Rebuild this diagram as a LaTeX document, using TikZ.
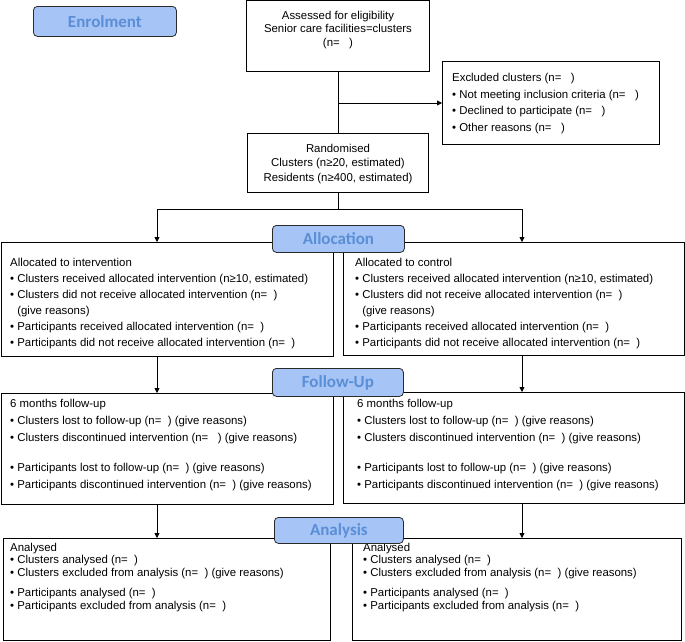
\documentclass[tikz,border=0pt]{standalone}
\usepackage{fontspec}
\setmainfont{Liberation Sans}
\newfontfamily\bannerfont{Carlito}
\usetikzlibrary{arrows.meta}
\definecolor{bannerfill}{HTML}{A6C4F5}
\definecolor{bannertext}{HTML}{5A8ED6}
\definecolor{bannerdraw}{HTML}{2A2A2A}
\tikzset{
  box/.style={draw=black, line width=0.8pt, rectangle, inner sep=0pt, anchor=north west, fill=white},
  banner/.style={draw=bannerdraw, line width=0.8pt, fill=bannerfill, rounded corners=4pt, anchor=north west, inner sep=0pt, text=bannertext, font=\bannerfont\bfseries\fontsize{17}{19}\selectfont},
  txt/.style={inner sep=0pt, align=left, anchor=north west, font=\fontsize{11.4}{16}\selectfont},
  ctxt/.style={inner sep=0pt, align=center, font=\fontsize{11.4}{14}\selectfont},
  conn/.style={line width=0.8pt, draw=black},
  arr/.style={conn, -{Triangle[length=5pt,width=5pt]}}
}
\newcommand{\bul}{\textbullet\ }
\begin{document}
\begin{tikzpicture}[x=1pt,y=-1pt]
\useasboundingbox (0,0) rectangle (685,641);
% Enrolment
\node[banner, minimum width=143pt, minimum height=30pt] (enrol) at (33,6) {Enrolment};
% Assessed
\node[box, minimum width=183pt, minimum height=71pt] (assess) at (246,0.4) {};
\node[ctxt, font=\fontsize{11.4}{13.5}\selectfont] (assesst) at (338,30) {Assessed for eligibility\\Senior care facilities=clusters\\(n=\ \ \ )};
% Excluded
\node[box, minimum width=217pt, minimum height=83pt] (excl) at (442,61) {};
\node[txt, font=\fontsize{11.4}{16.6}\selectfont] (exclt) at (452,73) {Excluded clusters (n=\ \ \ )\\\bul Not meeting inclusion criteria (n=\ \ \ )\\\bul Declined to participate (n=\ \ \ )\\\bul Other reasons (n=\ \ \ )};
% Randomised
\node[box, minimum width=181pt, minimum height=59pt] (rand) at (247,133) {};
\node[ctxt, font=\fontsize{11.4}{14.8}\selectfont] (randt) at (338,164) {Randomised\\Clusters (n≥20, estimated)\\Residents (n≥400, estimated)};
% connectors top
\coordinate (exjoin) at (338,103);
\draw[conn] (assess.south -| exjoin) -- (rand.north -| exjoin);
\draw[arr] (exjoin) -- (exjoin -| excl.west);
% Allocation boxes
\node[box, minimum width=332pt, minimum height=114pt] (allL) at (1,242) {};
\node[txt] (allLt) at (10,258) {Allocated to intervention\\\bul Clusters received allocated intervention (n≥10, estimated)\\\bul Clusters did not receive allocated intervention (n=\ \ )\\\phantom{\bul}(give reasons)\\\bul Participants received allocated intervention (n=\ \ )\\\bul Participants did not receive allocated intervention (n=\ \ )};
\node[box, minimum width=341pt, minimum height=113pt] (allR) at (343,242) {};
\node[txt] (allRt) at (355,258) {Allocated to control\\\bul Clusters received allocated intervention (n≥10, estimated)\\\bul Clusters did not receive allocated intervention (n=\ \ )\\\phantom{\bul}(give reasons)\\\bul Participants received allocated intervention (n=\ \ )\\\bul Participants did not receive allocated intervention (n=\ \ )};
\coordinate (split) at (338,209);
\coordinate (splitL) at (157,209);
\coordinate (splitR) at (522,209);
\draw[conn] (rand.south -| split) -- (split);
\draw[arr] (splitL -| split) -- (splitL) -- (allL.north -| splitL);
\draw[arr] (split) -- (splitR) -- (allR.north -| splitR);
\node[banner, minimum width=132pt, minimum height=27pt] (alloc) at (272,225) {Allocation};
% Follow-up boxes
\node[box, minimum width=332pt, minimum height=111pt] (fuL) at (1,393) {};
\node[txt, font=\fontsize{11.4}{17}\selectfont] (fuLt) at (10,399) {6 months follow-up\\\bul Clusters lost to follow-up (n=\ \ ) (give reasons)\\\bul Clusters discontinued intervention (n=\ \ \ ) (give reasons)\\[13pt]\bul Participants lost to follow-up (n=\ \ ) (give reasons)\\\bul Participants discontinued intervention (n=\ \ ) (give reasons)};
\node[box, minimum width=341pt, minimum height=111pt] (fuR) at (343,392) {};
\node[txt, font=\fontsize{11.4}{17}\selectfont] (fuRt) at (357,399) {6 months follow-up\\\bul Clusters lost to follow-up (n=\ \ ) (give reasons)\\\bul Clusters discontinued intervention (n=\ \ ) (give reasons)\\[13pt]\bul Participants lost to follow-up (n=\ \ ) (give reasons)\\\bul Participants discontinued intervention (n=\ \ ) (give reasons)};
\draw[arr] (allL.south -| splitL) -- (fuL.north -| splitL);
\draw[arr] (allR.south -| splitR) -- (fuR.north -| splitR);
\node[banner, minimum width=131pt, minimum height=28pt] (follow) at (272,368) {Follow-Up};
% Analysis boxes
\node[box, minimum width=327pt, minimum height=102pt] (anL) at (3,538) {};
\node[txt, font=\fontsize{11.4}{12.4}\selectfont] (anLt) at (10,543) {Analysed\\\bul Clusters analysed (n=\ \ )\\\bul Clusters excluded from analysis (n=\ \ ) (give reasons)\\[8.3pt]\bul Participants analysed (n=\ \ )\\\bul Participants excluded from analysis (n=\ \ )};
\node[box, minimum width=329pt, minimum height=102pt] (anR) at (352,538) {};
\node[txt, font=\fontsize{11.4}{12.4}\selectfont] (anRt) at (363,543) {Analysed\\\bul Clusters analysed (n=\ \ )\\\bul Clusters excluded from analysis (n=\ \ ) (give reasons)\\[8.3pt]\bul Participants analysed (n=\ \ )\\\bul Participants excluded from analysis (n=\ \ )};
\draw[arr] (fuL.south -| splitL) -- (anL.north -| splitL);
\draw[arr] (fuR.south -| splitR) -- (anR.north -| splitR);
\node[banner, minimum width=129pt, minimum height=26pt] (analysis) at (274,517) {Analysis};
\end{tikzpicture}
\end{document}
